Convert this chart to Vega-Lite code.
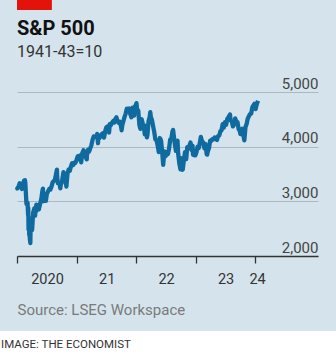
{
  "$schema": "https://vega.github.io/schema/vega-lite/v6.json",
  "width": 301,
  "height": 164,
  "autosize": "none",
  "padding": {"left": 17, "top": 92, "right": 18, "bottom": 101},
  "background": "#d5e4ec",
  "config": {"view": {"stroke": null}, "font": "Roboto"},
  "layer": [
    {
      "data": {"values": [{}]},
      "mark": {"type": "rect", "fill": "#ffffff"},
      "encoding": {
        "x": {"datum": {"year": 2019, "month": 6, "date": 1, "utc": true}, "type": "temporal", "scale": {"type": "utc", "domain": [{"year": 2020, "month": 1, "date": 1, "utc": true}, {"year": 2025, "month": 1, "date": 21, "utc": true}]}},
        "x2": {"datum": {"year": 2025, "month": 12, "date": 1, "utc": true}},
        "y": {"datum": 628, "type": "quantitative", "scale": {"domain": [2000, 5000], "nice": false, "zero": false}},
        "y2": {"datum": -3000}
      }
    },
    {
      "data": {"values": [{}]},
      "mark": {"type": "rect", "fill": "#e3120b"},
      "encoding": {
        "x": {"datum": {"year": 2020, "month": 1, "date": 1, "utc": true}, "type": "temporal"},
        "x2": {"datum": {"year": 2020, "month": 8, "date": 2, "utc": true}},
        "y": {"datum": 6500, "type": "quantitative"},
        "y2": {"datum": 7300}
      }
    },
    {
      "data": {"values": [{}]},
      "mark": {"type": "text", "align": "left", "baseline": "alphabetic", "fontSize": 20, "fontWeight": "bold", "fill": "#111111", "text": "S&P 500"},
      "encoding": {
        "x": {"datum": {"year": 2020, "month": 1, "date": 1, "utc": true}, "type": "temporal"},
        "y": {"datum": 6043, "type": "quantitative"}
      }
    },
    {
      "data": {"values": [{}]},
      "mark": {"type": "text", "align": "left", "baseline": "alphabetic", "fontSize": 16, "fill": "#333333", "text": "1941-43=10"},
      "encoding": {
        "x": {"datum": {"year": 2020, "month": 1, "date": 1, "utc": true}, "type": "temporal"},
        "y": {"datum": 5640, "type": "quantitative"}
      }
    },
    {
      "data": {"values": [{}]},
      "mark": {"type": "text", "align": "left", "baseline": "alphabetic", "fontSize": 11.5, "fill": "#333333", "text": "IMAGE: THE ECONOMIST"},
      "encoding": {
        "x": {"datum": {"year": 2019, "month": 9, "date": 25, "utc": true}, "type": "temporal"},
        "y": {"datum": 317, "type": "quantitative"}
      }
    },
    {
      "data": {"values": [
        {"d":"2020-01-02","v":3258},{"d":"2020-01-03","v":3235},{"d":"2020-01-10","v":3265},{"d":"2020-01-17","v":3330},{"d":"2020-01-24","v":3295},{"d":"2020-01-31","v":3226},{"d":"2020-02-07","v":3328},{"d":"2020-02-14","v":3380},{"d":"2020-02-19","v":3386},{"d":"2020-02-21","v":3338},{"d":"2020-02-28","v":2954},{"d":"2020-03-06","v":2972},{"d":"2020-03-09","v":2747},{"d":"2020-03-10","v":2882},{"d":"2020-03-12","v":2481},{"d":"2020-03-13","v":2711},{"d":"2020-03-16","v":2386},{"d":"2020-03-17","v":2529},{"d":"2020-03-20","v":2305},{"d":"2020-03-23","v":2237},{"d":"2020-03-24","v":2447},{"d":"2020-03-27","v":2541},{"d":"2020-04-01","v":2471},{"d":"2020-04-03","v":2489},{"d":"2020-04-09","v":2790},{"d":"2020-04-17","v":2875},{"d":"2020-04-21","v":2737},{"d":"2020-04-24","v":2837},{"d":"2020-04-29","v":2939},{"d":"2020-05-01","v":2831},{"d":"2020-05-08","v":2930},{"d":"2020-05-14","v":2852},{"d":"2020-05-15","v":2864},{"d":"2020-05-22","v":2955},{"d":"2020-05-29","v":3044},{"d":"2020-06-05","v":3194},{"d":"2020-06-08","v":3232},{"d":"2020-06-11","v":3002},{"d":"2020-06-12","v":3041},{"d":"2020-06-19","v":3098},{"d":"2020-06-26","v":3009},{"d":"2020-07-02","v":3130},{"d":"2020-07-10","v":3185},{"d":"2020-07-17","v":3225},{"d":"2020-07-24","v":3216},{"d":"2020-07-31","v":3271},{"d":"2020-08-07","v":3351},{"d":"2020-08-14","v":3373},{"d":"2020-08-21","v":3397},{"d":"2020-08-28","v":3508},{"d":"2020-09-02","v":3580},{"d":"2020-09-04","v":3427},{"d":"2020-09-08","v":3332},{"d":"2020-09-11","v":3341},{"d":"2020-09-18","v":3319},{"d":"2020-09-23","v":3237},{"d":"2020-09-25","v":3298},{"d":"2020-10-02","v":3348},{"d":"2020-10-09","v":3477},{"d":"2020-10-12","v":3535},{"d":"2020-10-16","v":3484},{"d":"2020-10-23","v":3465},{"d":"2020-10-30","v":3270},{"d":"2020-11-06","v":3510},{"d":"2020-11-13","v":3585},{"d":"2020-11-20","v":3558},{"d":"2020-11-27","v":3638},{"d":"2020-12-04","v":3699},{"d":"2020-12-11","v":3663},{"d":"2020-12-18","v":3709},{"d":"2020-12-24","v":3703},{"d":"2020-12-31","v":3756},
        {"d":"2021-01-08","v":3825},{"d":"2021-01-15","v":3768},{"d":"2021-01-22","v":3841},{"d":"2021-01-29","v":3714},{"d":"2021-02-05","v":3887},{"d":"2021-02-12","v":3934},{"d":"2021-02-19","v":3907},{"d":"2021-02-26","v":3811},{"d":"2021-03-04","v":3768},{"d":"2021-03-05","v":3842},{"d":"2021-03-12","v":3943},{"d":"2021-03-19","v":3913},{"d":"2021-03-26","v":3975},{"d":"2021-04-01","v":4020},{"d":"2021-04-09","v":4129},{"d":"2021-04-16","v":4185},{"d":"2021-04-23","v":4180},{"d":"2021-04-30","v":4181},{"d":"2021-05-07","v":4233},{"d":"2021-05-12","v":4063},{"d":"2021-05-14","v":4174},{"d":"2021-05-21","v":4156},{"d":"2021-05-28","v":4204},{"d":"2021-06-04","v":4230},{"d":"2021-06-11","v":4247},{"d":"2021-06-18","v":4166},{"d":"2021-06-25","v":4281},{"d":"2021-07-02","v":4352},{"d":"2021-07-09","v":4370},{"d":"2021-07-16","v":4327},{"d":"2021-07-19","v":4258},{"d":"2021-07-23","v":4412},{"d":"2021-07-30","v":4395},{"d":"2021-08-06","v":4437},{"d":"2021-08-13","v":4468},{"d":"2021-08-20","v":4442},{"d":"2021-08-27","v":4509},{"d":"2021-09-02","v":4537},{"d":"2021-09-10","v":4459},{"d":"2021-09-17","v":4433},{"d":"2021-09-24","v":4455},{"d":"2021-10-01","v":4357},{"d":"2021-10-04","v":4300},{"d":"2021-10-08","v":4391},{"d":"2021-10-15","v":4471},{"d":"2021-10-22","v":4545},{"d":"2021-10-29","v":4605},{"d":"2021-11-05","v":4697},{"d":"2021-11-12","v":4683},{"d":"2021-11-19","v":4698},{"d":"2021-11-26","v":4595},{"d":"2021-11-30","v":4567},{"d":"2021-12-03","v":4538},{"d":"2021-12-10","v":4712},{"d":"2021-12-17","v":4621},{"d":"2021-12-20","v":4568},{"d":"2021-12-23","v":4725},{"d":"2021-12-31","v":4766},
        {"d":"2022-01-03","v":4797},{"d":"2022-01-07","v":4677},{"d":"2022-01-14","v":4663},{"d":"2022-01-21","v":4398},{"d":"2022-01-27","v":4326},{"d":"2022-01-28","v":4432},{"d":"2022-02-04","v":4501},{"d":"2022-02-11","v":4419},{"d":"2022-02-18","v":4349},{"d":"2022-02-23","v":4226},{"d":"2022-02-25","v":4385},{"d":"2022-03-04","v":4329},{"d":"2022-03-08","v":4171},{"d":"2022-03-11","v":4204},{"d":"2022-03-18","v":4463},{"d":"2022-03-25","v":4543},{"d":"2022-03-29","v":4632},{"d":"2022-04-01","v":4546},{"d":"2022-04-08","v":4488},{"d":"2022-04-14","v":4393},{"d":"2022-04-22","v":4272},{"d":"2022-04-29","v":4132},{"d":"2022-05-06","v":4123},{"d":"2022-05-13","v":4024},{"d":"2022-05-20","v":3901},{"d":"2022-05-27","v":4158},{"d":"2022-06-03","v":4109},{"d":"2022-06-10","v":3901},{"d":"2022-06-16","v":3667},{"d":"2022-06-24","v":3912},{"d":"2022-07-01","v":3825},{"d":"2022-07-08","v":3899},{"d":"2022-07-15","v":3863},{"d":"2022-07-22","v":3962},{"d":"2022-07-29","v":4130},{"d":"2022-08-05","v":4145},{"d":"2022-08-12","v":4280},{"d":"2022-08-16","v":4305},{"d":"2022-08-19","v":4228},{"d":"2022-08-26","v":4058},{"d":"2022-09-02","v":3924},{"d":"2022-09-09","v":4067},{"d":"2022-09-12","v":4110},{"d":"2022-09-16","v":3873},{"d":"2022-09-23","v":3693},{"d":"2022-09-30","v":3586},{"d":"2022-10-04","v":3791},{"d":"2022-10-07","v":3640},{"d":"2022-10-12","v":3577},{"d":"2022-10-14","v":3583},{"d":"2022-10-21","v":3753},{"d":"2022-10-28","v":3901},{"d":"2022-11-04","v":3771},{"d":"2022-11-11","v":3993},{"d":"2022-11-18","v":3965},{"d":"2022-11-25","v":4026},{"d":"2022-12-01","v":4076},{"d":"2022-12-09","v":3934},{"d":"2022-12-13","v":4019},{"d":"2022-12-16","v":3852},{"d":"2022-12-23","v":3845},{"d":"2022-12-30","v":3840},
        {"d":"2023-01-06","v":3895},{"d":"2023-01-13","v":3999},{"d":"2023-01-20","v":3973},{"d":"2023-01-27","v":4071},{"d":"2023-02-02","v":4179},{"d":"2023-02-10","v":4090},{"d":"2023-02-17","v":4079},{"d":"2023-02-24","v":3970},{"d":"2023-03-03","v":4046},{"d":"2023-03-10","v":3862},{"d":"2023-03-13","v":3855},{"d":"2023-03-17","v":3917},{"d":"2023-03-24","v":3971},{"d":"2023-03-31","v":4109},{"d":"2023-04-06","v":4105},{"d":"2023-04-14","v":4138},{"d":"2023-04-21","v":4133},{"d":"2023-04-28","v":4169},{"d":"2023-05-05","v":4136},{"d":"2023-05-12","v":4124},{"d":"2023-05-19","v":4192},{"d":"2023-05-26","v":4205},{"d":"2023-06-02","v":4282},{"d":"2023-06-09","v":4299},{"d":"2023-06-16","v":4410},{"d":"2023-06-23","v":4348},{"d":"2023-06-30","v":4450},{"d":"2023-07-07","v":4399},{"d":"2023-07-14","v":4505},{"d":"2023-07-21","v":4536},{"d":"2023-07-31","v":4589},{"d":"2023-08-04","v":4478},{"d":"2023-08-11","v":4464},{"d":"2023-08-18","v":4370},{"d":"2023-08-25","v":4406},{"d":"2023-09-01","v":4516},{"d":"2023-09-08","v":4457},{"d":"2023-09-15","v":4450},{"d":"2023-09-22","v":4320},{"d":"2023-09-29","v":4288},{"d":"2023-10-03","v":4229},{"d":"2023-10-06","v":4308},{"d":"2023-10-13","v":4327},{"d":"2023-10-20","v":4224},{"d":"2023-10-27","v":4117},{"d":"2023-11-03","v":4358},{"d":"2023-11-10","v":4415},{"d":"2023-11-17","v":4514},{"d":"2023-11-24","v":4559},{"d":"2023-12-01","v":4595},{"d":"2023-12-08","v":4604},{"d":"2023-12-15","v":4719},{"d":"2023-12-22","v":4755},{"d":"2023-12-28","v":4783},{"d":"2023-12-29","v":4770},
        {"d":"2024-01-04","v":4688},{"d":"2024-01-05","v":4697},{"d":"2024-01-12","v":4784},{"d":"2024-01-19","v":4840}
      ]},
      "mark": {"type": "line", "stroke": "#0f6a9f", "strokeWidth": 4.3, "strokeJoin": "round"},
      "encoding": {
        "x": {
          "field": "d", "type": "temporal",
          "scale": {"type": "utc", "domain": [{"year": 2020, "month": 1, "date": 1, "utc": true}, {"year": 2025, "month": 1, "date": 21, "utc": true}]},
          "axis": {
            "values": [{"year": 2020, "month": 1, "date": 1, "utc": true}, {"year": 2021, "month": 1, "date": 1, "utc": true}, {"year": 2022, "month": 1, "date": 1, "utc": true}, {"year": 2023, "month": 1, "date": 1, "utc": true}, {"year": 2024, "month": 1, "date": 1, "utc": true}],
            "labelExpr": "utcyear(datum.value) == 2020 ? '2020' : slice(toString(utcyear(datum.value)), 2)",
            "labelFlush": false,
            "labelOverlap": false,
            "labelOffset": {"condition": {"test": "utcyear(datum.value) == 2024", "value": 2}, "value": 30},
            "grid": false,
            "domainColor": "#333333",
            "tickColor": "#333333",
            "tickWidth": 1.3,
            "domainWidth": 1.3,
            "tickSize": 7,
            "labelFontSize": 14.5,
            "labelColor": "#333333",
            "labelPadding": 9,
            "title": "Source: LSEG Workspace",
            "titleAnchor": "start",
            "titleAlign": "left",
            "titleX": 0,
            "titleY": 58,
            "titleBaseline": "alphabetic",
            "titleFontSize": 15,
            "titleFontWeight": "normal",
            "titleColor": "#7a7a7a"
          }
        },
        "y": {
          "field": "v", "type": "quantitative",
          "scale": {"domain": [2000, 5000], "nice": false, "zero": false},
          "axis": {
            "orient": "right",
            "values": [2000, 3000, 4000, 5000],
            "format": ",.0f",
            "grid": true,
            "gridColor": "#a9b8c1",
            "gridWidth": 1,
            "domain": false,
            "ticks": false,
            "tickSize": 0,
            "labelAlign": "right",
            "labelBaseline": "alphabetic",
            "labelOffset": -4,
            "labelPadding": 0,
            "labelFontSize": 15,
            "labelColor": "#444444",
            "title": null
          }
        }
      }
    }
  ]
}
